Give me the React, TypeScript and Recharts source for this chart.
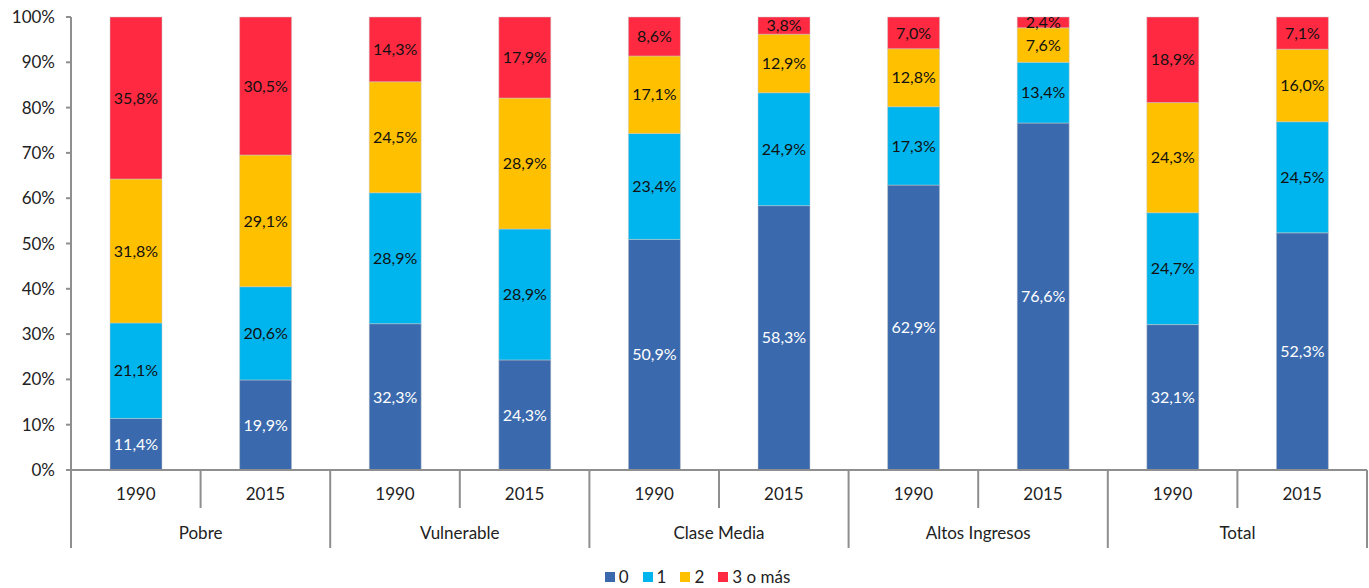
import { BarChart, Bar, XAxis, YAxis, LabelList, Legend } from 'recharts';

const groups = ['Pobre', 'Vulnerable', 'Clase Media', 'Altos Ingresos', 'Total'];
const years = ['1990', '2015'];

// one value per bar, order: Pobre 1990, Pobre 2015, Vulnerable 1990, ...
const s0 = [11.4, 19.9, 32.3, 24.3, 50.9, 58.3, 62.9, 76.6, 32.1, 52.3];
const s1 = [21.1, 20.6, 28.9, 28.9, 23.4, 24.9, 17.3, 13.4, 24.7, 24.5];
const s2 = [31.8, 29.1, 24.5, 28.9, 17.1, 12.9, 12.8, 7.6, 24.3, 16.0];
const s3 = [35.8, 30.5, 14.3, 17.9, 8.6, 3.8, 7.0, 2.4, 18.9, 7.1];

const yTicks = [0, 0.1, 0.2, 0.3, 0.4, 0.5, 0.6, 0.7, 0.8, 0.9, 1];

const series = [
  { key: 's0', name: '0', color: '#3A6AAD', text: '#ffffff' },
  { key: 's1', name: '1', color: '#00B5EE', text: '#111111' },
  { key: 's2', name: '2', color: '#FFC000', text: '#111111' },
  { key: 's3', name: '3 o más', color: '#FF2A42', text: '#111111' },
];

const data = s0.map((v, i) => ({
  name: `${groups[Math.floor(i / 2)]} ${years[i % 2]}`,
  s0: v,
  s1: s1[i],
  s2: s2[i],
  s3: s3[i],
}));

const W = 1369;
const H = 588;
const LEFT = 71;
const RIGHT = 2;
const band = (W - LEFT - RIGHT) / data.length;
const FONT = 'Lato, "Open Sans", sans-serif';
const AXIS = '#8f8f8f';

const pct = (v: number) => `${v.toFixed(1).replace('.', ',')}%`;

function CatTick(props: any) {
  const { x, y, index } = props;
  const year = years[index % 2];
  const group = groups[Math.floor(index / 2)];
  const right = x + band / 2;
  const first = index % 2 === 0;
  return (
    <g>
      {index === 0 && <line x1={x - band / 2} x2={x - band / 2} y1={y} y2={y + 78} stroke={AXIS} strokeWidth={2} />}
      <line x1={right} x2={right} y1={y} y2={first ? y + 38 : y + 78} stroke={AXIS} strokeWidth={2} />
      <text x={x} y={y + 26} textAnchor="middle" dominantBaseline="middle" fontSize={17} fill="#222" fontFamily={FONT}>
        {year}
      </text>
      {first && (
        <text x={right} y={y + 65} textAnchor="middle" dominantBaseline="middle" fontSize={17} fill="#222" fontFamily={FONT}>
          {group}
        </text>
      )}
    </g>
  );
}

function LegendBox() {
  return (
    <div style={{ display: 'flex', justifyContent: 'center', gap: 14, fontFamily: FONT, fontSize: 17, color: '#222', paddingLeft: 28, paddingTop: 8 }}>
      {series.map((s) => (
        <span key={s.key} style={{ display: 'flex', alignItems: 'center', gap: 4 }}>
          <span style={{ width: 10, height: 10, background: s.color, display: 'inline-block' }} />
          {s.name}
        </span>
      ))}
    </div>
  );
}

export default function App() {
  return (
    <div style={{ position: 'absolute', left: 0, top: 0, background: '#fff' }}>
      <BarChart
        width={W}
        height={H}
        data={data}
        stackOffset="expand"
        barSize={52}
        margin={{ top: 17, right: RIGHT, bottom: 0, left: 0 }}
      >
        <YAxis
          width={LEFT}
          domain={[0, 1]}
          ticks={yTicks}
          tickFormatter={(v: number) => `${Math.round(v * 100)}%`}
          axisLine={{ stroke: AXIS, strokeWidth: 2 }}
          tickLine={{ stroke: AXIS, strokeWidth: 2 }}
          tickSize={5}
          tickMargin={11}
          tick={{ fontSize: 17, fill: '#222', fontFamily: FONT }}
        />
        <XAxis
          dataKey="name"
          height={88}
          interval={0}
          axisLine={{ stroke: AXIS, strokeWidth: 2 }}
          tickLine={false}
          tickSize={0}
          tickMargin={0}
          tick={<CatTick />}
        />
        <Legend verticalAlign="bottom" height={30} content={<LegendBox />} />
        {series.map((s) => (
          <Bar key={s.key} dataKey={s.key} name={s.name} stackId="a" fill={s.color} stroke="#c8c8c8" strokeWidth={0.5} isAnimationActive={false}>
            <LabelList
              dataKey={s.key}
              position="center"
              formatter={(v: any) => pct(Number(v))}
              fill={s.text}
              fontSize={16}
              fontFamily={FONT}
            />
          </Bar>
        ))}
      </BarChart>
    </div>
  );
}
